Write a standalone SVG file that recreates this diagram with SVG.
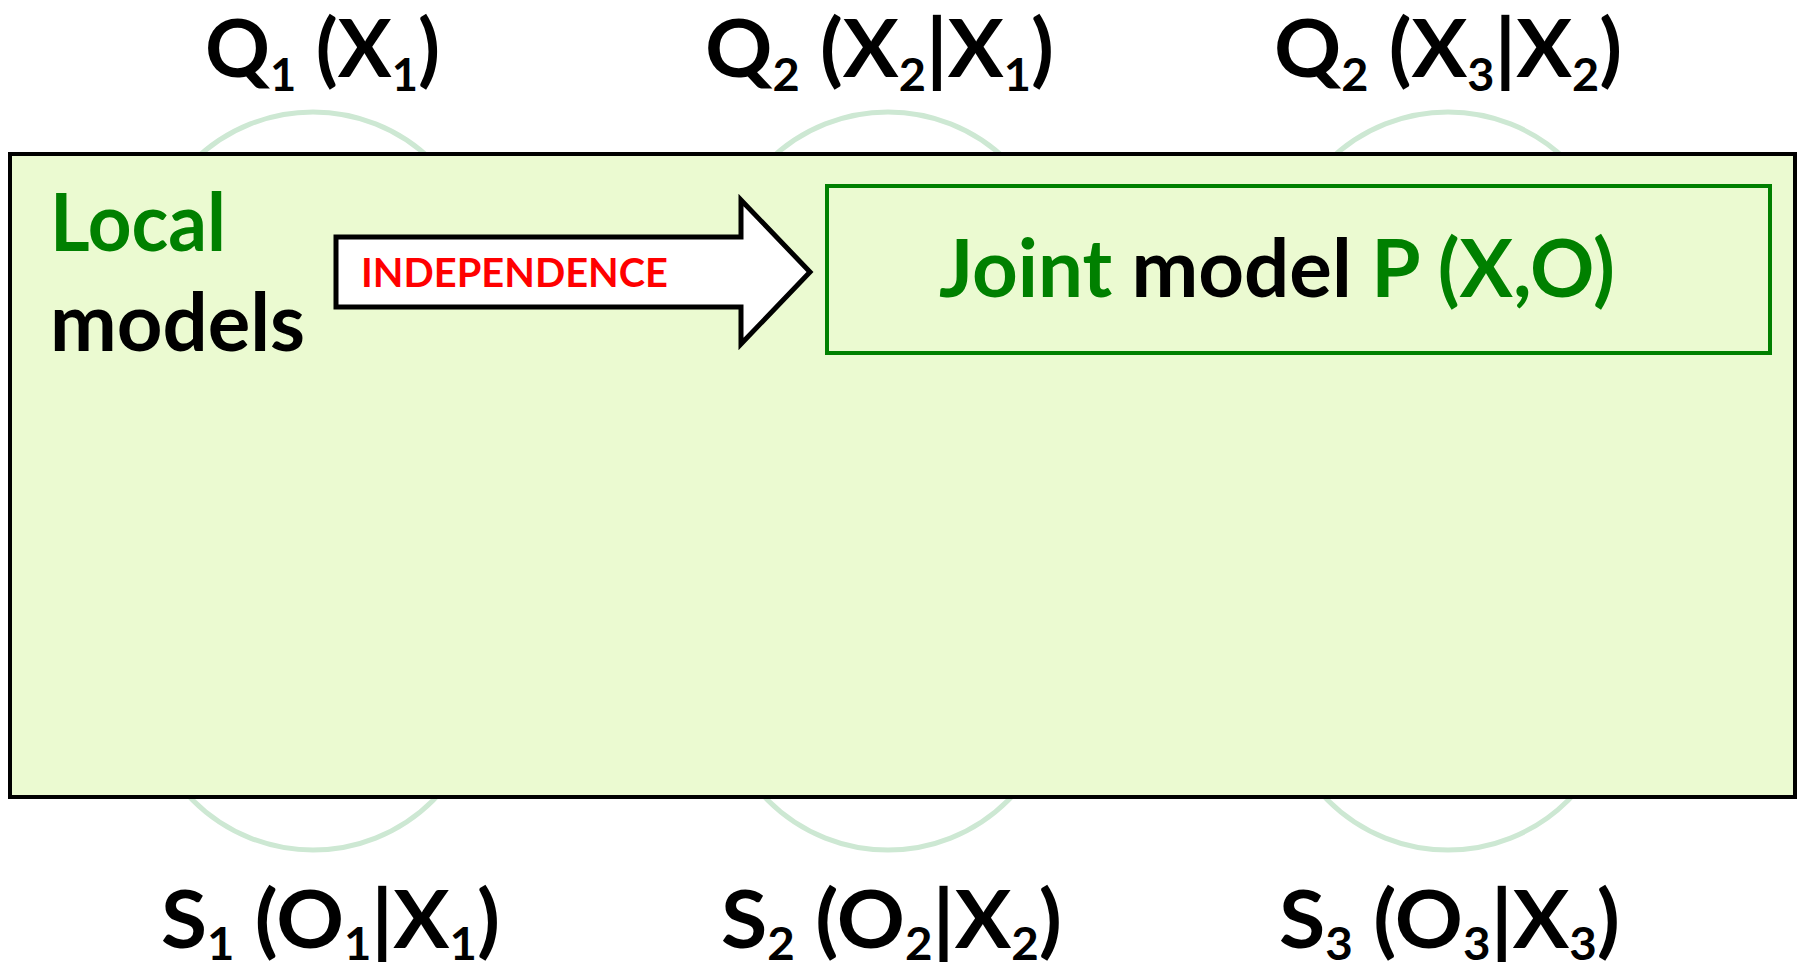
<svg xmlns="http://www.w3.org/2000/svg" width="1800" height="969" viewBox="0 0 1800 969">
<style>
.lbl{font-family:Lato,"Open Sans","Liberation Sans",sans-serif;font-weight:bold;font-size:80px;fill:#000}
.sub{font-size:45px}
.g{fill:#008000}
.node{fill:none;stroke:#cde8d3;stroke-width:5}
</style>
<rect width="1800" height="969" fill="#fff"/>
<g id="nodes-top">
<circle class="node" cx="313" cy="282" r="170"/>
<circle class="node" cx="888" cy="282" r="170"/>
<circle class="node" cx="1448" cy="282" r="170"/>
</g>
<g id="nodes-bottom">
<circle class="node" cx="313" cy="680" r="170"/>
<circle class="node" cx="888" cy="680" r="170"/>
<circle class="node" cx="1448" cy="680" r="170"/>
</g>
<g id="main">
<rect x="10" y="154" width="1785" height="643" fill="#ebfad1" stroke="#000" stroke-width="4"/>
<text class="lbl g" x="50" y="251" font-size="77" textLength="176" lengthAdjust="spacingAndGlyphs">Local</text>
<text class="lbl" x="50" y="351" font-size="77" textLength="255" lengthAdjust="spacingAndGlyphs">models</text>
</g>
<g id="connectors">
<polygon points="336,237 741,237 741,200 810,272 741,344 741,307 336,307" fill="#fff" stroke="#000" stroke-width="5"/>
<text x="361" y="287" font-family="Lato,'Open Sans','Liberation Sans',sans-serif" font-weight="bold" font-size="40" fill="#ff0000" textLength="307" lengthAdjust="spacingAndGlyphs">INDEPENDENCE</text>
</g>
<g id="joint">
<rect x="827" y="186" width="943" height="167" fill="#ebfad1" stroke="#008000" stroke-width="4"/>
<text class="lbl" x="939" y="297" font-size="73" textLength="676" lengthAdjust="spacingAndGlyphs"><tspan class="g">Joint</tspan> model <tspan class="g">P (X,O)</tspan></text>
</g>
<g id="label-q1">
<text class="lbl" x="205" y="77" textLength="235" lengthAdjust="spacingAndGlyphs">Q<tspan class="sub" dy="14">1</tspan><tspan dy="-14"> (X</tspan><tspan class="sub" dy="14">1</tspan><tspan dy="-14">)</tspan></text>
</g>
<g id="label-q2">
<text class="lbl" x="705" y="77" textLength="349" lengthAdjust="spacingAndGlyphs">Q<tspan class="sub" dy="14">2</tspan><tspan dy="-14"> (X</tspan><tspan class="sub" dy="14">2</tspan><tspan dy="-14">|X</tspan><tspan class="sub" dy="14">1</tspan><tspan dy="-14">)</tspan></text>
</g>
<g id="label-q3">
<text class="lbl" x="1274" y="77" textLength="348" lengthAdjust="spacingAndGlyphs">Q<tspan class="sub" dy="14">2</tspan><tspan dy="-14"> (X</tspan><tspan class="sub" dy="14">3</tspan><tspan dy="-14">|X</tspan><tspan class="sub" dy="14">2</tspan><tspan dy="-14">)</tspan></text>
</g>
<g id="label-s1">
<text class="lbl" x="161" y="948" textLength="339" lengthAdjust="spacingAndGlyphs">S<tspan class="sub" dy="12">1</tspan><tspan dy="-12"> (O</tspan><tspan class="sub" dy="12">1</tspan><tspan dy="-12">|X</tspan><tspan class="sub" dy="12">1</tspan><tspan dy="-12">)</tspan></text>
</g>
<g id="label-s2">
<text class="lbl" x="721" y="948" textLength="341" lengthAdjust="spacingAndGlyphs">S<tspan class="sub" dy="12">2</tspan><tspan dy="-12"> (O</tspan><tspan class="sub" dy="12">2</tspan><tspan dy="-12">|X</tspan><tspan class="sub" dy="12">2</tspan><tspan dy="-12">)</tspan></text>
</g>
<g id="label-s3">
<text class="lbl" x="1279" y="948" textLength="341" lengthAdjust="spacingAndGlyphs">S<tspan class="sub" dy="12">3</tspan><tspan dy="-12"> (O</tspan><tspan class="sub" dy="12">3</tspan><tspan dy="-12">|X</tspan><tspan class="sub" dy="12">3</tspan><tspan dy="-12">)</tspan></text>
</g>
</svg>
